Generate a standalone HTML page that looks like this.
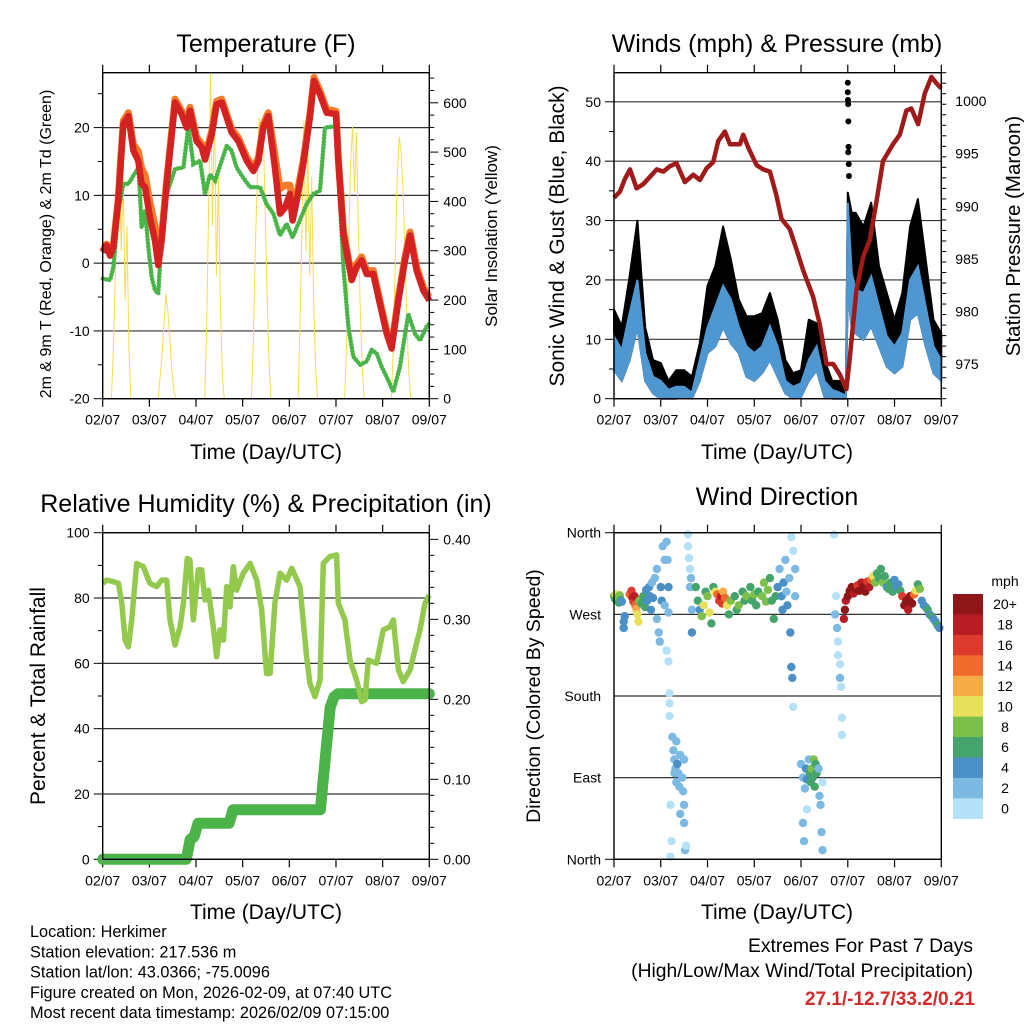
<!DOCTYPE html>
<html><head><meta charset="utf-8"><style>
html,body{margin:0;padding:0;background:#fff;}
svg{display:block;font-family:"Liberation Sans",Arial,sans-serif;}
</style></head><body>
<svg id="s" width="1024" height="1024" viewBox="0 0 1024 1024" xmlns="http://www.w3.org/2000/svg"></svg>
<script>
// ---------- DATA ----------
const dayLabels=["02/07","03/07","04/07","05/07","06/07","07/07","08/07","09/07"];
const redHours=[0,2,3.8,5.5,8,10.6,13.2,15.8,18.3,20,21.8,24.3,26.9,28.6,30.3,32.9,37.2,40.6,43.2,44.9,48.3,50.9,52.6,56.1,58.6,61.2,63.8,66.3,69.8,74.1,77.5,80.1,82.6,85.2,88.6,91.2,93.8,96.3,97.7,99.8,103.2,106.6,108.7,111.8,115.2,120,121.2,123.8,128.1,130.6,133.2,135.8,139.2,142.6,146.1,148.6,152.1,155.5,158.1,161.5,164.9,168];
const redTemp=[1.6,2.6,1.1,2.4,9.2,20.5,21.7,16.6,15.1,11.7,11.2,6.8,3.3,-0.3,3.3,11.7,23.7,22,20,22.5,18,17.1,15.3,19,23.4,23.7,21.5,19.3,18,15.1,13.6,15.1,20,21.7,14.1,7.3,8.2,10.2,6.3,9.2,14.6,21.5,26.9,24.9,22.2,22,15.1,4.3,-2.5,-0.6,0.4,-1.6,-1.6,-6,-10.4,-12.6,-5.5,0.4,4.1,-1.1,-4,-5.5];
const orangeTemp=[1.8,2.8,1.3,2.6,9.6,21,22.2,17.5,16.5,14,13,9,5.5,1.5,4,12.2,24.2,22.5,20.5,23,18.6,17.6,15.8,19.5,23.9,24.2,22,19.8,18.5,15.6,14.1,15.6,20.5,22.2,16,11,11.5,11.5,9,10,15.2,22,27.4,25.4,22.7,22.4,15.6,4.8,-2,-0.1,0.9,-1.1,-1.1,-5.5,-10,-12.2,-5,0.9,4.6,-0.6,-3.5,-5];
const tdHours=[0,3.8,5.5,8,10.6,13.2,15.8,18.3,19.2,20,21.8,23.5,25.2,26.9,28.6,30.3,32.9,37.2,41.5,44.1,46.6,50.1,52.6,55.2,57.8,61.2,63.8,66.3,68.9,72.3,75.8,80.9,84.3,87.8,91.2,94.6,97.7,100.6,104.9,108.3,111.8,114.3,120,121.2,123.8,126.4,128.9,132.4,135.8,138.3,140.9,143.5,146.9,149.5,152.9,157.2,160.6,163.2,166.6,168];
const tdTemp=[-2.3,-2.5,-0.6,7.7,11.7,11.7,12.9,14.1,10.2,5.3,7.7,2.3,-2.1,-4,-4.5,4.3,10.2,13.9,14.1,20.2,14.6,15.1,10.2,13.1,12.2,15.1,17.3,16.6,14.1,12.6,11.2,11.2,8.7,7.3,4.1,5.8,3.8,5.8,8.7,10.2,10.7,20,20.2,13.5,-0.6,-9.4,-13.8,-15,-14.5,-12.8,-13.3,-15.3,-17.3,-19,-15.3,-7.5,-10.4,-11.4,-9.4,-8.9];
const solarSunrise=[4.5,28.5,52.5,76.5,100.5,124.5,148.5];
const solarDay1=[0,100,250,480,517,300,450,200,350,100,0];
const solarDay2=[0,40,90,150,213,180,120,60,20,0,0];
const solarDay3=[0,150,400,663,350,600,250,450,200,50,0];
const solarDay4=[0,120,300,450,571,500,550,400,220,80,0];
const solarDay5=[0,150,350,565,300,520,250,450,200,60,0];
const solarDay6=[0,120,300,480,551,420,540,350,180,60,0];
const solarDay7=[0,100,280,450,531,500,420,300,150,50,0];

const presHours=[0,3.1,5.6,8.2,11.6,15,18.5,21.9,25.3,28.7,32.1,36.4,40.7,44.1,47.5,50.9,53.5,56.9,59.5,64.6,66.3,68.9,73.2,76.6,80,83.4,86,90.3,93.7,97.1,102.2,105.6,109.1,112.5,115.9,119.3,121,124.4,127.9,131.3,134.7,138.1,143.2,146.7,150.1,152.6,156.1,159.5,162.9,165.5,168];
const presMb=[990.8,991.4,992.6,993.5,991.7,992.1,992.8,993.5,993.3,993.8,994.1,992.3,993,992.5,993.6,994.2,996.2,997.1,995.9,995.9,996.8,995.6,993.9,993.5,993.3,991,988.8,987.8,985.9,983.9,981.4,978.8,975,975,974,972.6,975.5,982,985.2,986.8,990.4,994.3,995.9,996.8,999.1,999.3,997.8,1000.7,1002.3,1001.7,1001.2];
const windHours=[0,4,8,12,16,20,24,28,32,36,40,44,48,52,56,60,64,68,72,76,80,84,88,92,96,100,104,108,112,116,119,120,122,124,128,132,136,140,144,148,152,156,160,164,168];
const gustTop=[15,12.2,20.6,30,12,6.5,6,3,4.8,4.8,3.7,9.3,19,22.3,29,23.4,16.7,13.9,13.9,14.4,17.8,13.3,6.5,4.3,4.8,13.3,12.7,6.5,3,3,1,34.7,31.3,31.3,29,33,22.3,17.8,13.3,17.8,29,33.6,23.4,13.3,11];
const windHigh=[10.5,8.2,14.4,20,7.7,3.7,3,1.5,2,2,1,6.5,12,15.5,19,16.7,12.2,8.8,7.7,8.8,12.2,8.8,3,2,2.6,6.5,8.8,3,1.5,1,0.5,33,21.2,18.4,17.8,20.6,15.5,10.5,8.8,11,20,22.3,15.5,8.8,6.5];
const windLow=[4.8,3,6.5,12,3,0.9,0,0,0,0.3,0,3,7.7,8.8,12,9.3,7.7,3.7,3,4.3,6.5,3.7,0.9,0,0.3,3,4.8,0.3,0,0,0,17.8,12,11,9.9,12.2,8.8,5.4,4.3,5.4,13.3,14.4,8.8,4.3,3];
const gustSpikeHours=[120,120,120.1,120.2,120.3,120.4,120.2,120.5,120.6];
const gustSpikeMph=[53.2,51.6,50.3,49.6,46.7,42.4,41.5,39.5,37.5];

const rhHours=[0,2.1,5.5,8.1,9.8,11.5,13.2,14.9,17.5,20.9,24.3,27.8,30.3,32.9,34.6,37.2,39.8,41.5,43.5,44.9,46.6,49.2,50.9,52.6,54.3,56.9,58.6,60.3,62.1,63.8,65.5,67.2,68.9,72.3,75.8,79.2,81.8,84.3,86.1,88.6,91.2,94.6,97.2,101.5,104.9,106.6,109.2,111.8,113.5,116.9,120.3,121.2,124.6,127.2,130.6,133.2,134.9,136.6,140.9,144.3,147.8,149.5,152.1,154.6,158.1,160.6,163.2,165.8,168];
const rhPct=[84.5,85.5,85,84.5,78.4,67.1,65.1,73.3,90.6,89.6,84.5,83.5,85.5,85.5,73.3,65.6,71.2,78.4,92.1,91.6,73.3,88.6,88.6,79.4,82.4,71.2,62,70.2,67.1,83.5,77.3,89.6,82.4,87.6,90.6,85.5,76.3,56.9,56.9,78.4,87.6,85.5,89.1,83.5,62,53.9,49.8,54.9,90.6,92.7,93.2,78.4,73.3,61,54.9,48.3,48.8,61,60,70.2,71.2,73.3,58,54.4,58,64.1,70.2,78.4,80.9];
const precipHours=[0,43,45,47,49,65,67,112,115,117,119,121,168];
const precipIn=[0,0,0.025,0.028,0.045,0.045,0.062,0.062,0.14,0.19,0.203,0.207,0.207];

const dirHours=[0,0.5,1,1.5,2,2.5,3,3.5,4,5,5,5.5, 8,9,9.5,10,10.5,11,11.5,12,12.5,13,14, 15,16,16.5,17,18,18.5,19,19.5,20, 21,22,22,23,23.5,24,24.5,25,26,26,27,27,27.5,28,28, 28,28.5,28.5,28.5,29,29,29.5,30,30.5,31,31,31.5,32,32,32.5,33,33.5,34,34,35,35.5,36,36,36,36.5,37, 38,38,38.5,39,39,39.5,40,40, 42,43,44,45,46,47,48,49,50,51,52,53,54,55,55.5,56,57,58, 59,60,62,63,64,66,67,68,70,71,72,73,74,76,77,78,79,80,81,82,83, 84,85,86,86.5,87,88,88.5,89,90,90.5,91,91,91.5,92,92,93,93, 96,97,97,97.5,98,98.5,99,99,100,100.5,101,101.5,102,102.5,103,103.5,104,105,105.5,106,106.5,107,107, 113,113.5,114,114.5,115,115,116,116,116.5,117,117,118,118.5, 119,120,121,122,123,124,125,126,127,128,129,130,131,132,133,134,135,136, 137,138,139,140,141,142,143,144,145,146,147, 148,149,150,151,152,153,154,155,156,157, 158,159,160,161,162,163,164,165,166,167];
const dirDegrees=[290,287,292,285,289,283,291,286,284,262,255,268, 292,296,288,284,290,280,276,270,262,285,282, 290,278,297,285,300,290,275,305,288, 310,320,265,250,240,300,285,345,330,280,230,350,330,272,300, 218,183,172,158,60,3,20,135,120,110,95,100,130,85,105,95,80,115,50,90,75,60,40,110,10,15, 358,345,332,320,300,310,275,250, 300,285,275,268,280,295,290,272,260,300,295,292,285,290,282,295,288,280, 270,285,290,275,280,295,285,290,300,285,292,280,295,290,305,284,297,310,285,265,290, 300,320,290,275,305,330,295,280,310,250,355,212,200,340,168,320,290, 105,90,40,20,78,100,88,55,110,95,85,100,90,110,80,105,95,100,70,60,30,10,85, 358,270,290,255,240,225,200,215,190,156,137,265,275, 285,290,296,300,293,298,302,296,305,300,295,306,300,308,312,305,315,310, 320,305,312,300,298,305,295,308,300,303,296, 290,280,285,275,290,282,292,296,303,298, 285,280,278,275,270,268,265,262,258,255];
const dirSpeeds=[8,7,10,6,9,7,8,6,5,4,4,5, 14,16,18,16,18,14,12,10,10,8,7, 6,6,4,5,4,4,4,3,4, 3,2,3,2,2,4,4,2,2,3,1,2,2,2,4, 1,1,1,1,1,1,1,2,2,3,3,2,2,3,4,2,3,2,2,2,2,3,2,2,2,1, 1,1,1,1,2,3,2,4, 6,6,5,8,10,6,8,10,6,6,10,14,16,18,16,12,14,10, 6,8,6,7,8,6,7,8,6,7,8,6,7,8,8,8,9,6,7,6,6, 4,2,4,4,4,2,3,4,3,4,1,4,4,1,1,2,3, 2,2,2,2,2,4,4,1,3,6,6,8,7,8,6,7,6,3,2,2,2,2,1, 1,2,1,2,1,1,2,1,1,1,1,18,20, 18,20,20,20,18,20,16,20,18,20,20,16,18,14,10,8,6,6, 6,8,6,4,6,6,6,4,5,5,6, 16,20,20,18,20,20,14,10,6,8, 4,5,4,6,4,6,5,4,6,4];
const speedColors=["#b4e1f7","#7cb9e3","#4a8fc6","#45a46c","#7cc04b","#e6e05a","#f6ab46","#ef6a2d","#dc3a2c","#b81c24","#8e1619"];
const speedLabels=["0","2","4","6","8","10","12","14","16","18","20+"];

// ---------- HELPERS ----------
const NS="http://www.w3.org/2000/svg";
const svg=document.getElementById('s');
function el(tag,attrs,parent,text){const e=document.createElementNS(NS,tag);for(const k in attrs)e.setAttribute(k,attrs[k]);if(text!==undefined)e.textContent=text;(parent||svg).appendChild(e);return e;}
function grp(name){const g=el('g',{});return g;}
const P1={x0:102.7,x1:429.3,y0:72.7,y1:398.7};
const P2={x0:614,x1:941.3,y0:72.7,y1:398.7};
const P3={x0:102.7,x1:429.3,y0:532.7,y1:859.3};
const P4={x0:614,x1:941.3,y0:532.7,y1:859.3};
function xs(P,t){return P.x0+t/168*(P.x1-P.x0);}
function ys(P,v,lo,hi){return P.y1-(v-lo)/(hi-lo)*(P.y1-P.y0);}
function pathFrom(P,hrs,vals,lo,hi){return hrs.map((t,i)=>(i?'L':'M')+xs(P,t).toFixed(1)+','+ys(P,vals[i],lo,hi).toFixed(1)).join('');}

function frame(P,name,lo,hi,majors,minorStep,labelFn,rlo,rhi,rmajors,rminorStep,rlabelFn){
  const g=grp(name+'-axes');
  majors.forEach(v=>{const y=ys(P,v,lo,hi);const l=el('line',{x1:P.x0,x2:P.x1,y1:y,y2:y,stroke:'#333','stroke-width':1.2},g);});
  for(let d=0;d<8;d++){const x=xs(P,d*24);
    el('line',{x1:x,x2:x,y1:P.y1,y2:P.y1+8,stroke:'#000','stroke-width':1.2},g);
    el('line',{x1:x,x2:x,y1:P.y0,y2:P.y0-8,stroke:'#000','stroke-width':1.2},g);
    const t=el('text',{x:x,y:P.y1+26,'font-size':14,'text-anchor':'middle',fill:'#000'},g,dayLabels[d]);
    }
  for(let v=lo;v<=hi+1e-9;v+=minorStep){const y=ys(P,v,lo,hi);const maj=majors.some(m=>Math.abs(m-v)<1e-6);
    el('line',{x1:P.x0-(maj?9:5),x2:P.x0,y1:y,y2:y,stroke:'#000','stroke-width':1},g);}
  majors.forEach(v=>{const y=ys(P,v,lo,hi);const t=el('text',{x:P.x0-13,y:y+5,'font-size':14,'text-anchor':'end'},g,labelFn(v));});
  if(rmajors){
    for(let v=rlo;v<=rhi+1e-9;v+=rminorStep){const y=ys(P,v,rlo,rhi);if(y<P.y0-0.5)continue;const maj=rmajors.some(m=>Math.abs(m-v)<1e-6);
      el('line',{x1:P.x1,x2:P.x1+(maj?9:5),y1:y,y2:y,stroke:'#000','stroke-width':1},g);}
    rmajors.forEach(v=>{const y=ys(P,v,rlo,rhi);const t=el('text',{x:P.x1+14,y:y+5,'font-size':14,'text-anchor':'start'},g,rlabelFn(v));});
  }
  return g;
}
function border(P,name){const r=el('rect',{x:P.x0,y:P.y0,width:P.x1-P.x0,height:P.y1-P.y0,fill:'none',stroke:'#000','stroke-width':1.4});}
function txt(x,y,s,size,name,extra){const a=Object.assign({x:x,y:y,'font-size':size,'text-anchor':'middle',fill:'#000'},extra||{});const t=el('text',a,svg,s);return t;}
function vtxt(x,y,s,size,name,rot){const t=el('text',{x:0,y:0,'font-size':size,'text-anchor':'middle',transform:'translate('+x+','+y+') rotate('+(rot||-90)+')'},svg,s);return t;}

// ---------- PANEL 1 TEMPERATURE ----------
frame(P1,'temperature',-20,28.1,[-20,-10,0,10,20],5,v=>String(v),0,661,[0,100,200,300,400,500,600],25,v=>String(v));
{const g=grp('solar-insolation-line');
 const days=[solarDay1,solarDay2,solarDay3,solarDay4,solarDay5,solarDay6,solarDay7];
 days.forEach((arr,d)=>{const hrs=arr.map((_,i)=>solarSunrise[d]+i);const p=el('path',{d:pathFrom(P1,hrs,arr,0,661),fill:'none',stroke:'#f7dc52','stroke-width':1},g);});}
{const p=el('path',{d:pathFrom(P1,tdHours,tdTemp,-20,28.1),fill:'none',stroke:'#49b447','stroke-width':4.5,'stroke-dasharray':'0.1 3.2','stroke-linecap':'round'});}
{const p=el('path',{d:pathFrom(P1,redHours,orangeTemp,-20,28.1),fill:'none',stroke:'#f47b2a','stroke-width':7,'stroke-linejoin':'round'});}
{const p=el('path',{d:pathFrom(P1,redHours,redTemp,-20,28.1),fill:'none',stroke:'#d42222','stroke-width':6.5,'stroke-linejoin':'round'});}
border(P1,'temperature');
txt(266,52,'Temperature (F)',25,'temperature-title');
txt(266,459,'Time (Day/UTC)',21,'temperature-x-title');
vtxt(51,244,'2m & 9m T (Red, Orange) & 2m Td (Green)',16,'temperature-y-title');
vtxt(497,236,'Solar Insolation (Yellow)',17,'solar-y-title');

// ---------- PANEL 2 WINDS ----------
frame(P2,'winds',0,54.9,[0,10,20,30,40,50],5,v=>String(v),971.7,1002.7,[975,980,985,990,995,1000],1,v=>String(v));
{const g=grp('gust-series');
 const up=windHours.map((t,i)=>xs(P2,t).toFixed(1)+','+ys(P2,gustTop[i],0,54.9).toFixed(1));
 const dn=windHours.map((t,i)=>xs(P2,t).toFixed(1)+','+ys(P2,windLow[i],0,54.9).toFixed(1)).reverse();
 const p=el('polygon',{points:up.concat(dn).join(' '),fill:'#000',stroke:'#000','stroke-width':2,'stroke-linejoin':'round'},g);
 gustSpikeHours.forEach((t,i)=>{const c=el('circle',{cx:xs(P2,t),cy:ys(P2,gustSpikeMph[i],0,54.9),r:3,fill:'#000'},g);});}
{const up=windHours.map((t,i)=>xs(P2,t).toFixed(1)+','+ys(P2,windHigh[i],0,54.9).toFixed(1));
 const dn=windHours.map((t,i)=>xs(P2,t).toFixed(1)+','+ys(P2,windLow[i],0,54.9).toFixed(1)).reverse();
 const p=el('polygon',{points:up.concat(dn).join(' '),fill:'#4f97d1',stroke:'#4f97d1','stroke-width':2});}
{const p=el('path',{d:pathFrom(P2,presHours,presMb,971.7,1002.7),fill:'none',stroke:'#a11a1a','stroke-width':4.5,'stroke-linejoin':'round'});}
border(P2,'winds');
txt(777,52,'Winds (mph) & Pressure (mb)',25,'winds-title');
txt(777,459,'Time (Day/UTC)',21,'winds-x-title');
vtxt(564,236,'Sonic Wind & Gust (Blue, Black)',21,'winds-y-title');
vtxt(1020,236,'Station Pressure (Maroon)',20.5,'pressure-y-title');

// ---------- PANEL 3 RH ----------
frame(P3,'humidity',0,100,[0,20,40,60,80,100],10,v=>String(v),0,0.40833,[0,0.1,0.2,0.3,0.4],0.02,v=>v.toFixed(2));
{const p=el('path',{d:pathFrom(P3,precipHours,precipIn,0,0.40833),fill:'none',stroke:'#4cb348','stroke-width':11,'stroke-linecap':'round','stroke-linejoin':'round'});}
{const p=el('path',{d:pathFrom(P3,rhHours,rhPct,0,100),fill:'none',stroke:'#93c94c','stroke-width':5.5,'stroke-linejoin':'round'});}
border(P3,'humidity');
txt(266,512,'Relative Humidity (%) & Precipitation (in)',25,'humidity-title');
txt(266,919,'Time (Day/UTC)',21,'humidity-x-title');
vtxt(45,696,'Percent & Total Rainfall',21,'humidity-y-title');

// ---------- PANEL 4 WIND DIRECTION ----------
{const dirTickVals=[0,90,180,270,360];const dirTickNames=["North","East","South","West","North"];
 frame(P4,'direction',0,360,dirTickVals,360,v=>dirTickNames[dirTickVals.indexOf(v)]);}
{const g=grp('direction-points');
 dirHours.forEach((t,i)=>{const k=Math.min(10,Math.floor(dirSpeeds[i]/2));
   const c=el('circle',{cx:xs(P4,t).toFixed(1),cy:ys(P4,dirDegrees[i],0,360).toFixed(1),r:4.2,fill:speedColors[k]},g);
   
   });}
border(P4,'direction');
txt(777,505,'Wind Direction',25,'direction-title');
txt(777,919,'Time (Day/UTC)',21,'direction-x-title');
vtxt(540,696,'Direction (Colored By Speed)',19.5,'direction-y-title');
{const g=grp('speed-colorbar');
 const bh=(818.7-594)/11;
 for(let i=0;i<11;i++){const y=594+i*bh;const c=speedColors[10-i];
   const r=el('rect',{x:953,y:y,width:30,height:bh+0.3,fill:c},g);
   const t=el('text',{x:1005,y:y+bh/2+5,'font-size':14,'text-anchor':'middle'},g,speedLabels[10-i]);}
 const t=el('text',{x:1005,y:586,'font-size':14,'text-anchor':'middle'},g,'mph');}

// ---------- FOOTER ----------
const footLines=["Location: Herkimer","Station elevation: 217.536 m","Station lat/lon: 43.0366; -75.0096","Figure created on Mon, 2026-02-09, at 07:40 UTC","Most recent data timestamp: 2026/02/09 07:15:00"];
footLines.forEach((s,i)=>txt(30,937+i*20.3,s,16.3,'station-info-line',{'text-anchor':'start'}));
txt(973,952,'Extremes For Past 7 Days',19.3,'extremes-heading',{'text-anchor':'end'});
txt(973,977,'(High/Low/Max Wind/Total Precipitation)',19.3,'extremes-subheading',{'text-anchor':'end'});
txt(975,1005,'27.1/-12.7/33.2/0.21',19,'extremes-values',{'text-anchor':'end',fill:'#d42a2a','font-weight':'bold'});
</script>
</body></html>
